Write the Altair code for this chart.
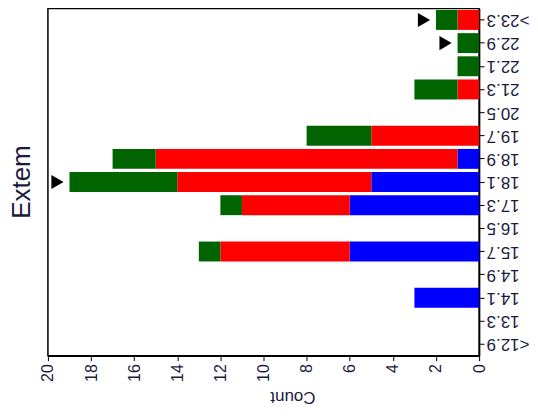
import altair as alt
import pandas as pd

# Bins (bottom to top as drawn)
categories = ["<12.9", "13.3", "14.1", "14.9", "15.7", "16.5", "17.3", "18.1",
              "18.9", "19.7", "20.5", "21.3", "22.1", "22.9", ">23.3"]
series_names = ["Group 1", "Group 2", "Group 3"]
blue_counts = [0, 0, 3, 0, 6, 0, 6, 5, 1, 0, 0, 0, 0, 0, 0]
red_counts = [0, 0, 0, 0, 6, 0, 5, 9, 14, 5, 0, 1, 0, 0, 1]
green_counts = [0, 0, 0, 0, 1, 0, 1, 5, 2, 3, 0, 2, 1, 1, 1]
series_colors = ["#0000FF", "#FF0000", "#006400"]
marked_bins = ["18.1", "22.9", ">23.3"]
x_ticks = [0, 2, 4, 6, 8, 10, 12, 14, 16, 18, 20]

rows = []
for order, (name, vals) in enumerate(zip(series_names, [blue_counts, red_counts, green_counts])):
    for c, v in zip(categories, vals):
        rows.append({"bin": c, "series": name, "count": v, "order": order})
df = pd.DataFrame(rows)

totals = {c: b + r + g for c, b, r, g in zip(categories, blue_counts, red_counts, green_counts)}
arrow_df = pd.DataFrame({"bin": marked_bins, "total": [totals[c] for c in marked_bins]})

y_sort = categories[::-1]
text_color = "#1a1a40"
font = "Liberation Sans"

y_enc = alt.Y(
    "bin:N", sort=y_sort,
    scale=alt.Scale(paddingInner=0.14, paddingOuter=0.07),
    axis=alt.Axis(orient="right", title=None, labelAngle=180, labelAlign="right",
                  labelBaseline="middle", labelFontSize=17, labelFont=font,
                  labelColor=text_color, labelPadding=2, tickSize=5,
                  tickColor="black", domainColor="black", domainWidth=1.5),
)

bars = alt.Chart(df).mark_bar().encode(
    x=alt.X(
        "count:Q", stack="zero",
        scale=alt.Scale(domain=[0, 20], reverse=True, nice=False),
        axis=alt.Axis(values=x_ticks, labelAngle=270, labelAlign="right",
                      labelBaseline="middle", labelFontSize=16, labelFont=font,
                      labelColor=text_color, labelPadding=3, tickSize=5,
                      tickColor="black", domainColor="black", domainWidth=1.5,
                      grid=False, title="Count", titleAngle=180,
                      titleBaseline="bottom", titleFontSize=17,
                      titleFontWeight="normal", titleFont=font,
                      titleColor=text_color, titlePadding=6, titleX=245),
    ),
    y=y_enc,
    color=alt.Color("series:N", scale=alt.Scale(domain=series_names, range=series_colors), legend=None),
    order=alt.Order("order:Q"),
)

arrows = alt.Chart(arrow_df).mark_point(
    shape="triangle-right", filled=True, color="black", size=200, opacity=1, xOffset=-12
).encode(
    x=alt.X("total:Q"),
    y=alt.Y("bin:N", sort=y_sort),
)

chart = alt.layer(bars, arrows).properties(
    width=432, height=348, padding=0,
    title=alt.TitleParams("Extem", orient="left", fontSize=26, fontWeight="normal",
                          font=font, color=text_color, offset=5),
).configure_view(stroke="black", strokeWidth=1.5)

chart.save("out.html", embed_options={"renderer": "svg", "actions": False})
